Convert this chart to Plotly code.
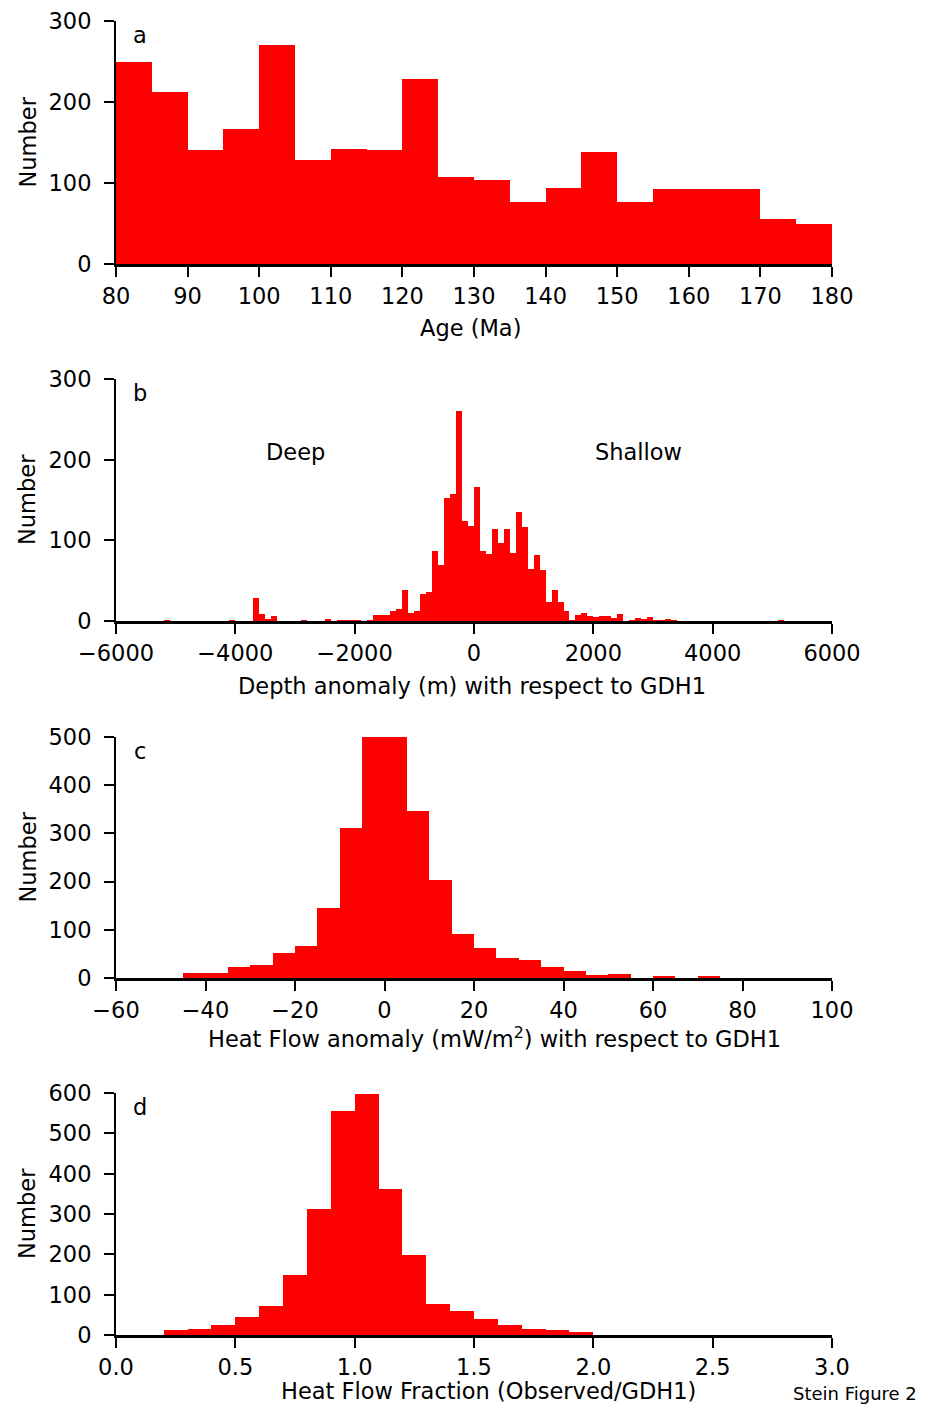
import plotly.graph_objects as go

# ---------------- data ----------------
# Panel a: age histogram (bin width 5 Ma)
age_bin_start = [80, 85, 90, 95, 100, 105, 110, 115, 120, 125, 130, 135, 140, 145, 150, 155, 160, 165, 170, 175]
age_counts = [250, 212, 141, 167, 270, 128, 142, 141, 228, 107, 104, 76, 94, 138, 77, 93, 92, 93, 56, 50]

# Panel b: depth anomaly histogram (bin width 100 m), non-empty bins
depth_bin_start = [-5200, -4100, -3700, -3600, -3500, -3400, -2900, -2500, -2300, -2200, -2100, -2000,
                   -1800, -1700, -1600, -1500, -1400, -1300, -1200, -1100, -1000, -900, -800, -700,
                   -600, -500, -400, -300, -200, -100, 0, 100, 200, 300, 400, 500, 600, 700, 800,
                   900, 1000, 1100, 1200, 1300, 1400, 1500, 1600, 1700, 1800, 1900, 2000, 2100,
                   2200, 2300, 2400, 2600, 2700, 2800, 2900, 3000, 3100, 3200, 3300, 5100]
depth_counts = [1, 1, 28, 9, 2, 6, 1, 2, 1, 1, 1, 1,
                1, 7, 7, 7, 12, 15, 38, 10, 12, 34, 36, 87,
                69, 153, 157, 260, 124, 118, 166, 87, 83, 114, 97, 114, 84, 135, 116,
                65, 82, 63, 23, 38, 24, 12, 1, 7, 10, 6, 5, 6,
                6, 4, 9, 1, 4, 3, 5, 1, 1, 2, 1, 1]

# Panel c: heat flow anomaly histogram (bin width 5 mW/m2)
hf_bin_start = [-45, -40, -35, -30, -25, -20, -15, -10, -5, 0, 5, 10, 15, 20, 25, 30, 35, 40, 45, 50, 55, 60, 65, 70]
hf_counts = [10, 10, 23, 26, 51, 66, 145, 311, 500, 500, 346, 203, 91, 62, 41, 37, 23, 14, 6, 8, 0, 4, 0, 4]

# Panel d: heat flow fraction histogram (bin width 0.1)
fr_bin_start = [0.2, 0.3, 0.4, 0.5, 0.6, 0.7, 0.8, 0.9, 1.0, 1.1, 1.2, 1.3, 1.4, 1.5, 1.6, 1.7, 1.8, 1.9]
fr_counts = [13, 16, 24, 44, 71, 148, 312, 555, 598, 362, 198, 77, 60, 40, 25, 15, 12, 7]

panels = [
    dict(start=age_bin_start, counts=age_counts, width=5, xr=[80, 180], xt=list(range(80, 181, 10)),
         yr=[0, 300], yt=[0, 100, 200, 300], fmt=None, letter="a", title="Age (Ma)"),
    dict(start=depth_bin_start, counts=depth_counts, width=100, xr=[-6000, 6000], xt=list(range(-6000, 6001, 2000)),
         yr=[0, 300], yt=[0, 100, 200, 300], fmt=None, letter="b", title="Depth anomaly (m) with respect to GDH1"),
    dict(start=hf_bin_start, counts=hf_counts, width=5, xr=[-60, 100], xt=list(range(-60, 101, 20)),
         yr=[0, 500], yt=[0, 100, 200, 300, 400, 500], fmt=None, letter="c",
         title="Heat Flow anomaly (mW/m<sup>2</sup>) with respect to GDH1"),
    dict(start=fr_bin_start, counts=fr_counts, width=0.1, xr=[0, 3], xt=[0, 0.5, 1.0, 1.5, 2.0, 2.5, 3.0],
         yr=[0, 600], yt=[0, 100, 200, 300, 400, 500, 600], fmt=".1f", letter="d",
         title="Heat Flow Fraction (Observed/GDH1)"),
]

W, H = 928, 1408
x0, x1 = 116, 832
# pixel top/bottom of each plot area
ypix = [(21, 264), (379, 621), (737, 978), (1093, 1335)]
# x-title placement (centre x, offset below the axis) in pixels
title_cx = [470, 472, 494, 488]
title_dy = [64, 65, 59, 56]

FONT = "DejaVu Sans, Liberation Sans, Arial, sans-serif"
FS = 22.5
fig = go.Figure()
layout = dict(template="none", width=W, height=H, margin=dict(l=0, r=0, t=0, b=0, pad=0),
              paper_bgcolor="white", plot_bgcolor="white", showlegend=False,
              bargap=0, font=dict(family=FONT, size=FS, color="black"))
annotations = []

for i, p in enumerate(panels):
    n = "" if i == 0 else str(i + 1)
    xa, ya = "x" + n, "y" + n
    centers = [s + p["width"] / 2 for s in p["start"]]
    fig.add_trace(go.Bar(x=centers, y=p["counts"], width=[p["width"]] * len(centers),
                         marker=dict(color="#ff0000", line=dict(width=0)),
                         xaxis=xa, yaxis=ya, hoverinfo="x+y"))
    top, bot = ypix[i]
    layout["xaxis" + n] = dict(domain=[x0 / W, x1 / W], range=p["xr"], tickvals=p["xt"],
                               tickformat=p["fmt"], showgrid=False, zeroline=False, automargin=False,
                               showline=True, linecolor="black", linewidth=3,
                               ticks="outside", ticklen=10, tickwidth=2, tickcolor="black",
                               ticklabelstandoff=0,
                               tickfont=dict(family=FONT, size=FS, color="black"),
                               anchor=ya, fixedrange=True)
    layout["yaxis" + n] = dict(domain=[1 - bot / H, 1 - top / H], range=p["yr"], tickvals=p["yt"],
                               showgrid=False, zeroline=False, automargin=False,
                               showline=True, linecolor="black", linewidth=2,
                               ticks="outside", ticklen=10, tickwidth=2, tickcolor="black",
                               ticklabelstandoff=8,
                               tickfont=dict(family=FONT, size=FS, color="black"),
                               anchor=xa, fixedrange=True)
    # panel letter
    annotations.append(dict(text=p["letter"], x=140 / W, y=1 - (top + 14) / H, xref="paper", yref="paper",
                            showarrow=False, xanchor="center", yanchor="middle",
                            font=dict(family=FONT, size=FS, color="black")))
    # y title
    annotations.append(dict(text="Number", x=27 / W, y=1 - (top + bot) / 2 / H, xref="paper", yref="paper",
                            showarrow=False, textangle=-90, xanchor="center", yanchor="middle",
                            font=dict(family=FONT, size=FS, color="black")))
    # x title
    annotations.append(dict(text=p["title"], x=title_cx[i] / W, y=1 - (bot + title_dy[i]) / H,
                            xref="paper", yref="paper",
                            showarrow=False, xanchor="center", yanchor="middle",
                            font=dict(family=FONT, size=FS, color="black")))

# Deep / Shallow labels on panel b
annotations.append(dict(text="Deep", x=-3000, y=210, xref="x2", yref="y2", showarrow=False,
                        xanchor="center", yanchor="middle", font=dict(family=FONT, size=FS, color="black")))
annotations.append(dict(text="Shallow", x=2750, y=210, xref="x2", yref="y2", showarrow=False,
                        xanchor="center", yanchor="middle", font=dict(family=FONT, size=FS, color="black")))
# figure caption
annotations.append(dict(text="Stein Figure 2", x=855 / W, y=1 - 1393 / H, xref="paper", yref="paper",
                        showarrow=False, xanchor="center", yanchor="middle",
                        font=dict(family=FONT, size=18, color="black")))

layout["annotations"] = annotations
fig.update_layout(**layout)
fig.write_html("out.html")
